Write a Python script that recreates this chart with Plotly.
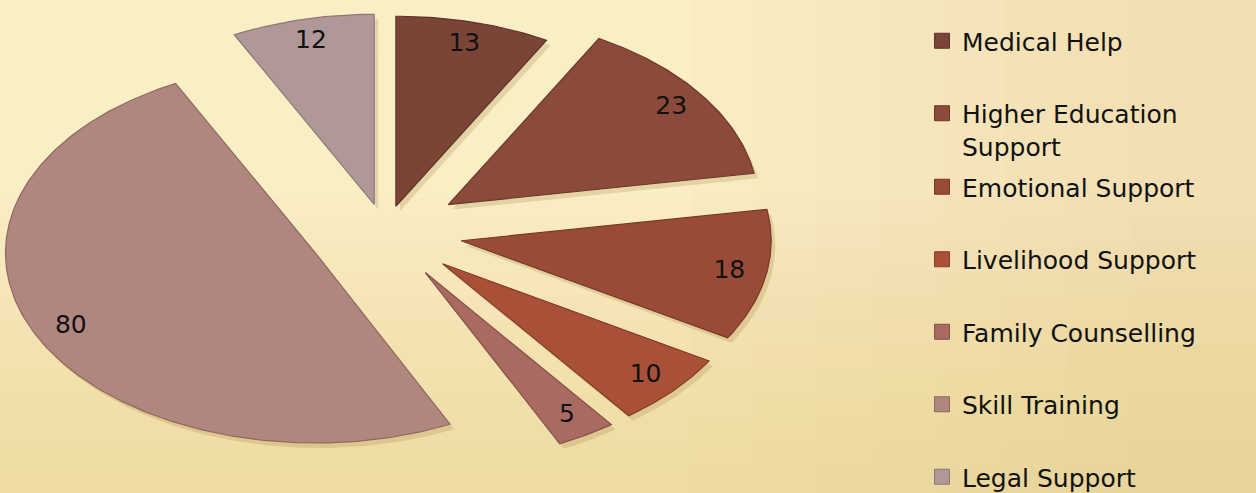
import numpy as np
import plotly.graph_objects as go

# ---- data ----
categories = ["Medical Help", "Higher Education<br>Support", "Emotional Support",
              "Livelihood Support", "Family Counselling", "Skill Training", "Legal Support"]
values = [13, 23, 18, 10, 5, 80, 12]

# ---- style ----
colors = ["#7A4537", "#8B4A3A", "#994B37", "#A85038", "#A86A61", "#B0877F", "#B09898"]
edge_colors = ["#5E3328", "#6C3729", "#783828", "#853C28", "#855048", "#8E6760", "#8E7777"]
pulls = [0.14, 0.25, 0.25, 0.25, 0.25, 0.25, 0.15]

W, H = 1256, 493
CX, CY, RX, RY = 385, 232, 310, 190   # pixel placement of the (elliptical) pie
BG = "#FAEEC5"
FONT = "DejaVu Sans"

fig = go.Figure()

total = float(sum(values))
cum = np.concatenate([[0.0], np.cumsum(values)])
label_x, label_y = [], []
for i, v in enumerate(values):
    a0 = cum[i] / total * 2 * np.pi
    a1 = cum[i + 1] / total * 2 * np.pi
    m = (a0 + a1) / 2
    ox, oy = pulls[i] * np.sin(m), pulls[i] * np.cos(m)
    t = np.linspace(a0, a1, max(8, int(v * 3)))
    xs = np.concatenate([[ox], ox + np.sin(t), [ox]])
    ys = np.concatenate([[oy], oy + np.cos(t), [oy]])
    # soft shadow
    fig.add_trace(go.Scatter(
        x=xs + 4 / RX, y=ys - 5 / RY, mode="lines", fill="toself",
        fillcolor="rgba(140,110,40,0.20)", line=dict(width=0),
        hoverinfo="skip", showlegend=False))
    fig.add_trace(go.Scatter(
        x=xs, y=ys, mode="lines", fill="toself", fillcolor=colors[i],
        line=dict(color=edge_colors[i], width=1.2),
        name=categories[i].replace("<br>", " "), legendgroup=f"g{i}",
        showlegend=False, hoverinfo="name+text", text=[str(v)] * len(xs)))
    label_x.append(ox + 0.88 * np.sin(m))
    label_y.append(oy + 0.88 * np.cos(m))

fig.add_trace(go.Scatter(
    x=label_x, y=label_y, mode="text", text=[str(v) for v in values],
    textposition="middle center",
    textfont=dict(family=FONT, size=25, color="#111111"),
    hoverinfo="skip", showlegend=False))

# legend entries
for i, name in enumerate(categories):
    fig.add_trace(go.Scatter(
        x=[None], y=[None], mode="markers", name=name, legendgroup=f"g{i}",
        legend="legend" if i < 2 else "legend2",
        marker=dict(symbol="square", size=15, color=colors[i],
                    line=dict(color=edge_colors[i], width=1))))

legend_common = dict(
    bgcolor="rgba(0,0,0,0)", borderwidth=0, xanchor="left", yanchor="top",
    valign="top", tracegroupgap=37, itemclick=False, itemdoubleclick=False,
    font=dict(family=FONT, size=25, color="#111111"),
)

# subtle background shading (lighter top-left, warmer towards the bottom)
shapes = []
n_bands = 12
for k in range(n_bands):
    y0 = k / n_bands * 0.6
    shapes.append(dict(type="rect", xref="paper", yref="paper", layer="below",
                       x0=0, x1=1, y0=0, y1=0.6 - y0, line=dict(width=0),
                       fillcolor="rgba(228,200,115,0.035)"))
for k in range(8):
    shapes.append(dict(type="rect", xref="paper", yref="paper", layer="below",
                       x0=0.55 + k * 0.05, x1=1, y0=0, y1=1, line=dict(width=0),
                       fillcolor="rgba(228,200,115,0.03)"))

fig.update_layout(
    width=W, height=H,
    margin=dict(l=0, r=0, t=0, b=0, autoexpand=False),
    paper_bgcolor=BG, plot_bgcolor="rgba(0,0,0,0)",
    xaxis=dict(range=[-CX / RX, (W - CX) / RX], visible=False, fixedrange=True),
    yaxis=dict(range=[-(H - CY) / RY, CY / RY], visible=False, fixedrange=True),
    legend=dict(x=922 / W, y=1 - 18 / H, **legend_common),
    legend2=dict(x=922 / W, y=1 - 164 / H, **legend_common),
    shapes=shapes,
    showlegend=True,
)

fig.write_html("out.html")
